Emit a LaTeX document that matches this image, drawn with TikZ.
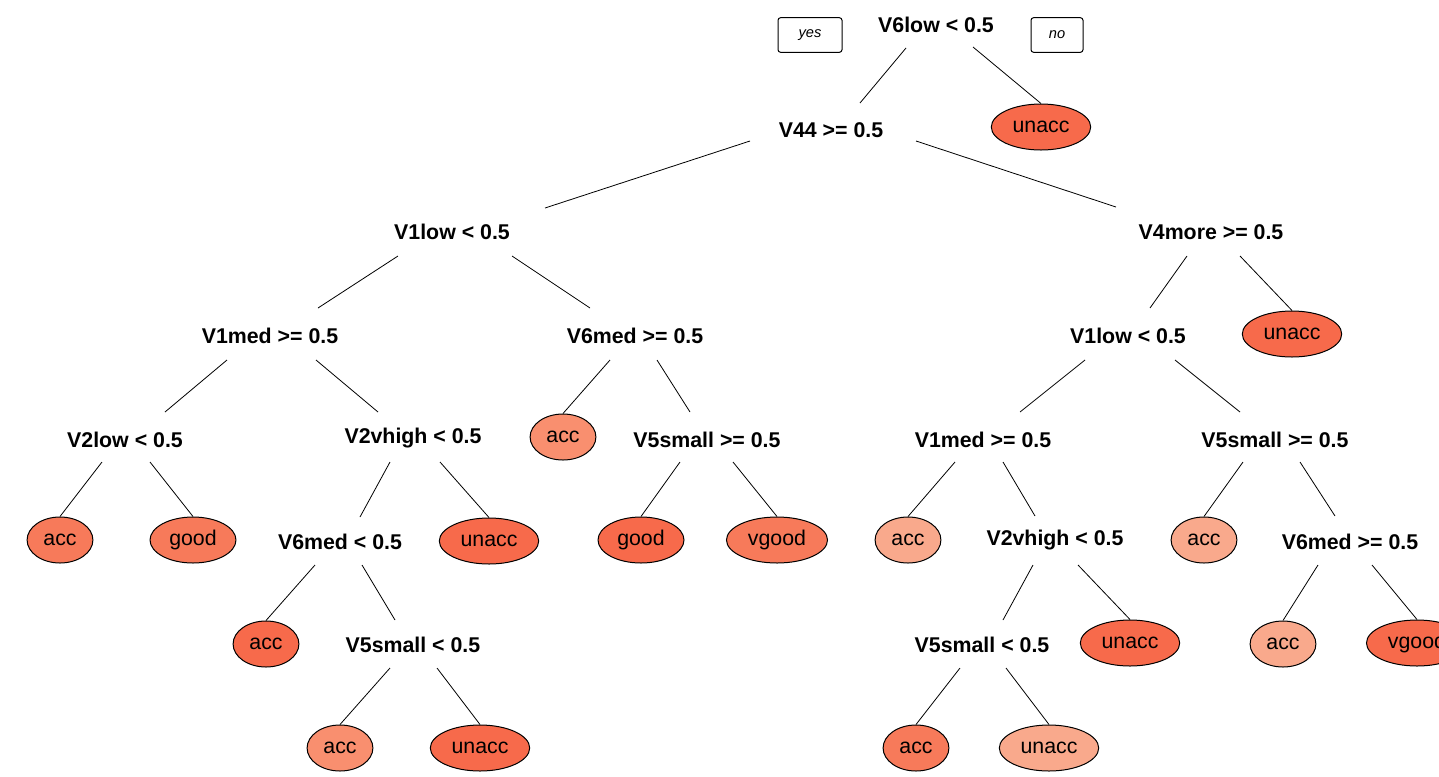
\documentclass[tikz,border=0pt]{standalone}
\usepackage{fontspec}
\setmainfont{Liberation Sans}
\usetikzlibrary{shapes.geometric}
\definecolor{cDark}{HTML}{F76A4B}
\definecolor{cMidD}{HTML}{F77A5A}
\definecolor{cMid}{HTML}{F98F6F}
\definecolor{cLight}{HTML}{F9A98C}
\newcommand\br[6]{\draw[edge] ([shift={(#2,#3)}]#1.center) -- ([shift={(#5,#6)}]#4.center);}
\newcommand\bl[4]{\draw[edge] ([shift={(#2,#3)}]#1.center) -- (#4.north);}
\begin{document}
\begin{tikzpicture}[x=0.75pt,y=-0.75pt,
  split/.style={font=\fontsize{16}{18}\selectfont\bfseries, inner sep=0pt},
  leaf/.style={ellipse, draw=black, line width=0.75pt, font=\fontsize{16}{18}\selectfont,
    inner xsep=5pt, inner ysep=1pt, minimum height=34.5pt, text height=11pt, text depth=3pt},
  tag/.style={draw=black, line width=0.75pt, rounded corners=2pt, font=\fontsize{11}{13}\selectfont\itshape,
    minimum height=26pt},
  edge/.style={draw=black, line width=0.6pt}]
\useasboundingbox (0,0) rectangle (1439,776);
\fill[white] (0,0) rectangle (1439,776);
% tags
\node[tag, minimum width=48pt] (yes) at (810,35) {yes};
\node[tag, minimum width=39pt] (no) at (1057,35) {no};
% split nodes
\node[split] (root) at (936,25) {V6low < 0.5};
\node[split] (v44) at (831,130) {V44 >= 0.5};
\node[split] (l1) at (452,232) {V1low < 0.5};
\node[split] (r1) at (1211,232) {V4more >= 0.5};
\node[split] (l11) at (270,336) {V1med >= 0.5};
\node[split] (l12) at (635,336) {V6med >= 0.5};
\node[split] (r11) at (1128,336) {V1low < 0.5};
\node[split] (a) at (125,440) {V2low < 0.5};
\node[split] (b) at (413,438) {V2vhigh < 0.5};
\node[split] (d) at (707,440) {V5small >= 0.5};
\node[split] (e) at (983,440) {V1med >= 0.5};
\node[split] (f) at (1275,440) {V5small >= 0.5};
\node[split] (g) at (340,542) {V6med < 0.5};
\node[split] (h) at (1055,540) {V2vhigh < 0.5};
\node[split] (i) at (1350,542) {V6med >= 0.5};
\node[split] (j) at (413,645) {V5small < 0.5};
\node[split] (k) at (982,645) {V5small < 0.5};
% leaves
\node[leaf, fill=cDark] (u1) at (1041,127) {unacc};
\node[leaf, fill=cDark] (u2) at (1292,334) {unacc};
\node[leaf, fill=cMid] (c) at (563,437) {acc};
\node[leaf, fill=cMidD] (acc1) at (60,540) {acc};
\node[leaf, fill=cMidD] (good1) at (193,540) {good};
\node[leaf, fill=cDark] (unacc3) at (489,541) {unacc};
\node[leaf, fill=cDark] (good2) at (641,540) {good};
\node[leaf, fill=cMidD] (vgood2) at (777,540) {vgood};
\node[leaf, fill=cLight] (acc4) at (908,540) {acc};
\node[leaf, fill=cLight] (acc5) at (1204,540) {acc};
\node[leaf, fill=cDark] (acc6) at (266,644) {acc};
\node[leaf, fill=cDark] (unacc7) at (1130,643) {unacc};
\node[leaf, fill=cLight] (acc8) at (1283,644) {acc};
\node[leaf, fill=cDark] (vgood8) at (1417,643) {vgood};
\node[leaf, fill=cMid] (acc9) at (340,748) {acc};
\node[leaf, fill=cDark] (unacc9) at (480,748) {unacc};
\node[leaf, fill=cMidD] (acc10) at (916,748) {acc};
\node[leaf, fill=cLight] (unacc10) at (1049,748) {unacc};
% edges
\br{root}{-30}{23}{v44}{29}{-27}
\bl{root}{37}{22}{u1}
\br{v44}{-81}{11}{l1}{93}{-24}
\br{v44}{85}{11}{r1}{-95}{-25}
\br{l1}{-54}{24}{l11}{48}{-28}
\br{l1}{60}{24}{l12}{-45}{-28}
\br{r1}{-24}{24}{r11}{22}{-28}
\bl{r1}{29}{24}{u2}
\br{l11}{-43}{24}{a}{40}{-28}
\br{l11}{46}{24}{b}{-35}{-26}
\bl{l12}{-25}{24}{c}
\br{l12}{22}{24}{d}{-17}{-28}
\br{r11}{-43}{24}{e}{37}{-28}
\br{r11}{47}{24}{f}{-35}{-28}
\bl{a}{-23}{22}{acc1}
\bl{a}{25}{22}{good1}
\br{b}{-23}{24}{g}{20}{-25}
\bl{b}{27}{24}{unacc3}
\bl{d}{-27}{22}{good2}
\bl{d}{26}{22}{vgood2}
\bl{e}{-28}{22}{acc4}
\br{e}{20}{22}{h}{-20}{-24}
\bl{f}{-32}{22}{acc5}
\br{f}{25}{22}{i}{-15}{-26}
\bl{g}{-25}{23}{acc6}
\br{g}{22}{23}{j}{-18}{-25}
\br{h}{-22}{25}{k}{21}{-25}
\bl{h}{23}{25}{unacc7}
\bl{i}{-32}{23}{acc8}
\bl{i}{22}{23}{vgood8}
\bl{j}{-23}{23}{acc9}
\bl{j}{24}{23}{unacc9}
\bl{k}{-22}{23}{acc10}
\bl{k}{24}{23}{unacc10}
\end{tikzpicture}
\end{document}
